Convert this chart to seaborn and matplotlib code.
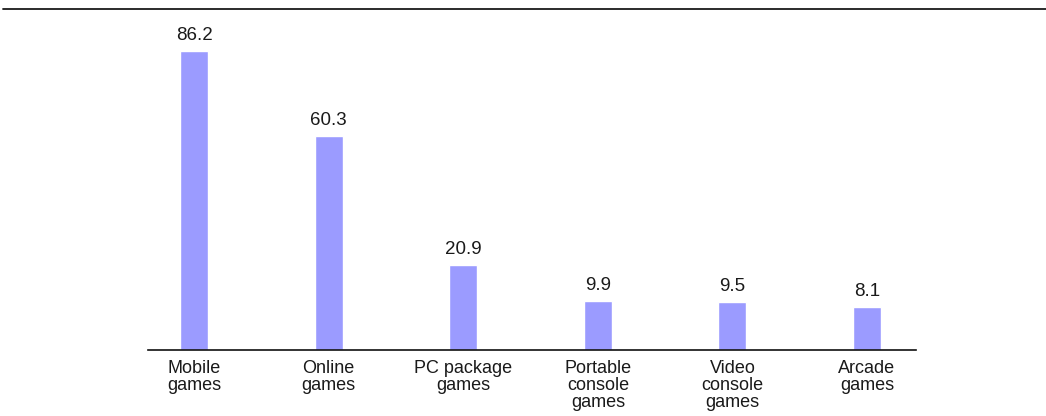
import matplotlib
matplotlib.use("Agg")
import matplotlib.pyplot as plt
from matplotlib.lines import Line2D
import seaborn as sns
import pandas as pd

categories = ["Mobile\ngames", "Online\ngames", "PC package\ngames",
              "Portable\nconsole\ngames", "Video\nconsole\ngames", "Arcade\ngames"]
values = [86.2, 60.3, 20.9, 9.9, 9.5, 8.1]

sns.set_theme(style="white")
plt.rcParams["font.family"] = ["Liberation Sans", "DejaVu Sans"]

df = pd.DataFrame({"category": categories, "value": values})

fig = plt.figure(figsize=(10.46, 4.16), dpi=100)
ax = fig.add_axes([148 / 1046, 66 / 416, 768 / 1046, 330 / 416])

sns.barplot(data=df, x="category", y="value", color="#9b9bff", saturation=1,
            width=0.208, ax=ax)

y_floor = -5.02
ax.set_xlim(-0.342, 5.364)
ax.set_ylim(y_floor, 95.65)

# extend each bar down to the baseline, keeping its top at the value
for bar in ax.patches:
    top = bar.get_y() + bar.get_height()
    bar.set_y(y_floor)
    bar.set_height(top - y_floor)

for i, v in enumerate(values):
    ax.annotate(f"{v:.1f}", (i, v), xytext=(0, 5), textcoords="offset points",
                ha="center", va="bottom", fontsize=13.5, color="#1a1a1a")

ax.set_xlabel("")
ax.set_ylabel("")
ax.set_yticks([])
ax.tick_params(axis="x", length=0, pad=7.5, labelsize=13, colors="#1a1a1a")
for lbl in ax.get_xticklabels():
    lbl.set_linespacing(1.0)
for side in ["left", "right", "top"]:
    ax.spines[side].set_visible(False)
ax.spines["bottom"].set_color("#111111")
ax.spines["bottom"].set_linewidth(1.2)

# rule across the top of the figure
fig.add_artist(Line2D([3 / 1046, 1.0], [1 - 9 / 416, 1 - 9 / 416],
                      color="#1a1a1a", linewidth=1.3, transform=fig.transFigure))

fig.savefig("out.png", dpi=100)
